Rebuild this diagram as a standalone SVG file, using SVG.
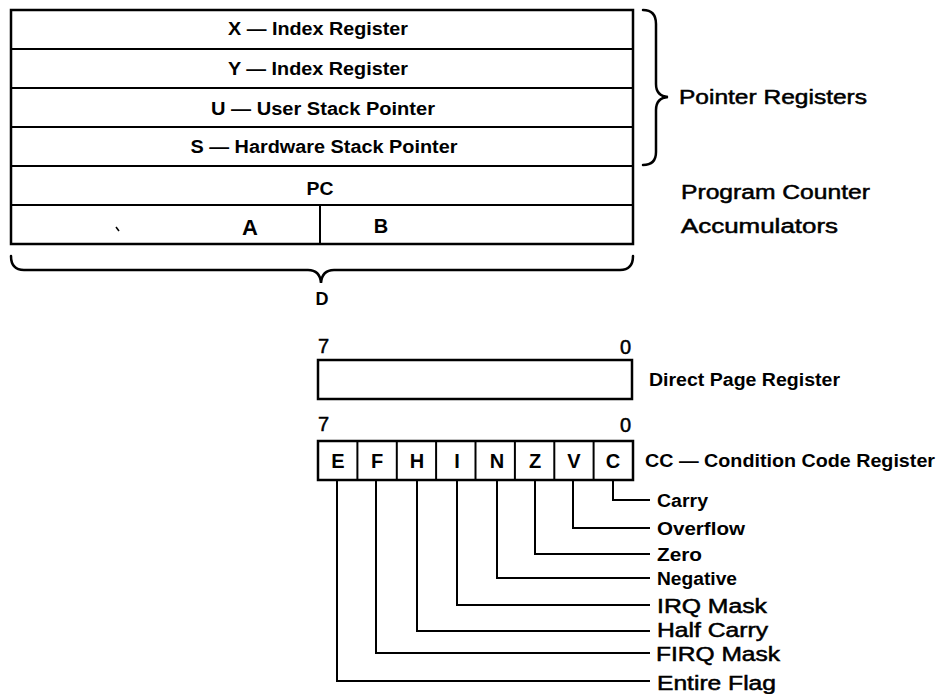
<svg xmlns="http://www.w3.org/2000/svg" width="943" height="694" viewBox="0 0 943 694">
<style>
text{font-family:"Liberation Sans",Arial,Helvetica,sans-serif;fill:#000}
.b{font-weight:bold;font-size:18px}
.r{font-size:20px;stroke:#000;stroke-width:0.5}
.m{text-anchor:middle}
.box{fill:#fff;stroke:#000;stroke-width:2.5}
.ln{fill:none;stroke:#000;stroke-width:2}
.br{fill:none;stroke:#000;stroke-width:2.5;stroke-linecap:round}
</style>
<rect width="943" height="694" fill="#fff"/>
<g id="reg-block">
<rect class="box" x="11" y="10" width="622" height="234"/>
<line class="ln" x1="11" y1="49" x2="633" y2="49"/>
<line class="ln" x1="11" y1="88" x2="633" y2="88"/>
<line class="ln" x1="11" y1="127" x2="633" y2="127"/>
<line class="ln" x1="11" y1="166" x2="633" y2="166"/>
<line class="ln" x1="11" y1="205" x2="633" y2="205"/>
<line class="ln" x1="320" y1="205" x2="320" y2="244"/>
</g>
<g id="reg-x"><text class="b m" x="318" y="35" textLength="180" lengthAdjust="spacingAndGlyphs">X — Index Register</text></g>
<g id="reg-y"><text class="b m" x="318" y="75" textLength="180" lengthAdjust="spacingAndGlyphs">Y — Index Register</text></g>
<g id="reg-u"><text class="b m" x="323" y="115" textLength="224" lengthAdjust="spacingAndGlyphs">U — User Stack Pointer</text></g>
<g id="reg-s"><text class="b m" x="324" y="153" textLength="267" lengthAdjust="spacingAndGlyphs">S — Hardware Stack Pointer</text></g>
<g id="reg-pc"><text class="b m" x="320" y="195" textLength="27" lengthAdjust="spacingAndGlyphs">PC</text></g>
<g id="reg-a"><line x1="116" y1="227" x2="119" y2="231" stroke="#000" stroke-width="1.5"/><text class="b m" x="250" y="235" style="font-size:22px">A</text></g>
<g id="reg-b"><text class="b m" x="381" y="233" style="font-size:20px">B</text></g>
<g id="lbl-pointer"><text class="r" x="679" y="104" textLength="188" lengthAdjust="spacingAndGlyphs">Pointer Registers</text></g>
<g id="lbl-pc"><text class="r" x="681" y="199" textLength="189" lengthAdjust="spacingAndGlyphs">Program Counter</text></g>
<g id="lbl-acc"><text class="r" x="681" y="233" textLength="157" lengthAdjust="spacingAndGlyphs">Accumulators</text></g>
<g id="lbl-d"><text class="b m" x="322" y="305">D</text></g>
<g id="dp-reg">
<text class="r" x="318" y="353">7</text>
<text class="r" x="620" y="354">0</text>
<rect class="box" x="318" y="360" width="314" height="39"/>
<text class="b" x="649" y="386" textLength="191" lengthAdjust="spacingAndGlyphs">Direct Page Register</text>
</g>
<g id="cc-reg">
<text class="r" x="318" y="431">7</text>
<text class="r" x="620" y="432">0</text>
<rect class="box" x="318" y="441" width="315" height="39"/>
<g class="ln">
<line x1="357.4" y1="441" x2="357.4" y2="480"/>
<line x1="396.8" y1="441" x2="396.8" y2="480"/>
<line x1="436.1" y1="441" x2="436.1" y2="480"/>
<line x1="475.5" y1="441" x2="475.5" y2="480"/>
<line x1="514.9" y1="441" x2="514.9" y2="480"/>
<line x1="554.3" y1="441" x2="554.3" y2="480"/>
<line x1="593.6" y1="441" x2="593.6" y2="480"/>
</g>
<g class="b m" style="font-size:20px">
<text x="338" y="468">E</text>
<text x="377" y="468">F</text>
<text x="417" y="468">H</text>
<text x="457" y="468">I</text>
<text x="497" y="468">N</text>
<text x="535" y="468">Z</text>
<text x="574" y="468">V</text>
<text x="613" y="468">C</text>
</g>
<text class="b" x="645" y="467" textLength="290" lengthAdjust="spacingAndGlyphs">CC — Condition Code Register</text>
</g>
<g id="flag-labels">
<text class="b" x="657" y="507" textLength="51" lengthAdjust="spacingAndGlyphs">Carry</text>
<text class="b" x="657" y="535" textLength="88" lengthAdjust="spacingAndGlyphs">Overflow</text>
<text class="b" x="657" y="561" textLength="45" lengthAdjust="spacingAndGlyphs">Zero</text>
<text class="b" x="657" y="585" textLength="80" lengthAdjust="spacingAndGlyphs">Negative</text>
<text class="r" x="657" y="613" textLength="110" lengthAdjust="spacingAndGlyphs">IRQ Mask</text>
<text class="r" x="657" y="637" textLength="111" lengthAdjust="spacingAndGlyphs">Half Carry</text>
<text class="r" x="656" y="661" textLength="124" lengthAdjust="spacingAndGlyphs">FIRQ Mask</text>
<text class="r" x="657" y="690" textLength="119" lengthAdjust="spacingAndGlyphs">Entire Flag</text>
</g>
<g id="connectors">
<path class="br" d="M643,10 Q656,10 656,24 L656,84 Q656,96 668,97 Q656,98 656,110 L656,152 Q656,165 643,165"/>
<path class="br" d="M11,256 Q11,270 24,270 L308,270 Q320,270 321,283 Q322,270 334,270 L620,270 Q633,270 633,256"/>
<g class="ln">
<polyline points="613,480 613,500 650,500"/>
<polyline points="573,480 573,528 650,528"/>
<polyline points="535,480 535,554 650,554"/>
<polyline points="497,480 497,578 650,578"/>
<polyline points="457,480 457,605 650,605"/>
<polyline points="417,480 417,631 650,631"/>
<polyline points="376,480 376,653 650,653"/>
<polyline points="337,480 337,681 650,681"/>
</g>
</g>
</svg>
